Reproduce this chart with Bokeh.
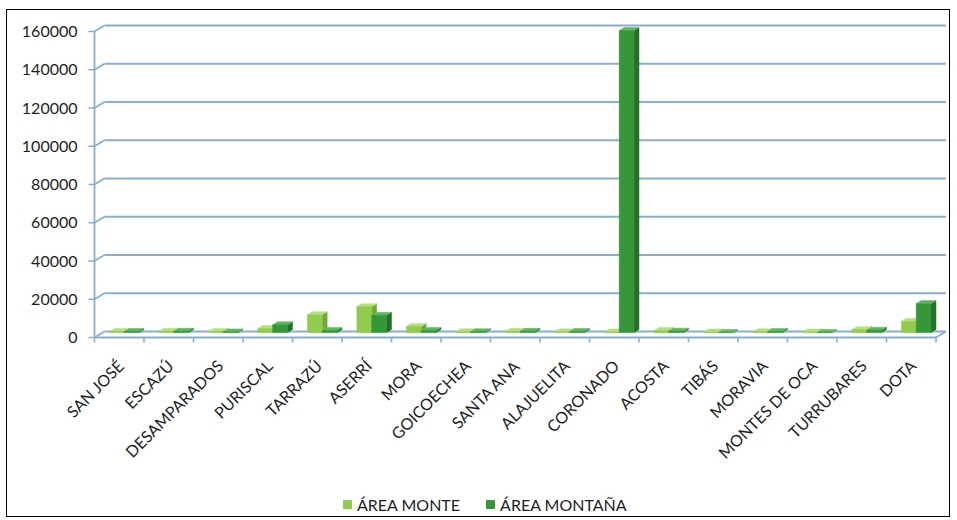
import numpy as np
from bokeh.plotting import figure
from bokeh.models import Legend, LegendItem, Range1d, ColumnDataSource
from bokeh.core.properties import value
from bokeh.embed import file_html
from bokeh.resources import INLINE

# ---------------- data ----------------
categories = ["SAN JOSÉ", "ESCAZÚ", "DESAMPARADOS", "PURISCAL", "TARRAZÚ", "ASERRÍ",
              "MORA", "GOICOECHEA", "SANTA ANA", "ALAJUELITA", "CORONADO", "ACOSTA",
              "TIBÁS", "MORAVIA", "MONTES DE OCA", "TURRUBARES", "DOTA"]
area_monte = [500, 600, 500, 2100, 9300, 13500, 3200, 400, 600, 400, 300, 1000,
              300, 400, 300, 1500, 5800]
area_montana = [500, 600, 300, 4100, 1000, 9000, 1000, 400, 600, 500, 157900, 700,
                0, 500, 0, 1200, 15100]
series_names = ["ÁREA MONTE", "ÁREA MONTAÑA"]
y_ticks = [0, 20000, 40000, 60000, 80000, 100000, 120000, 140000, 160000]
y_tick_labels = ["0", "20000", "40000", "60000", "80000", "100000", "120000",
                 "140000", "160000"]

# ---------------- style ----------------
FONT = "Lato"
GRID = "#88aed0"
TXT = "#1e1e1e"
BAR_W = 0.3
OFFS = [-0.05, 0.25]
PX = 160000 / 306.0         # data units per screen pixel (vertical)
UX = 1 / 49.5               # data units per screen pixel (horizontal)
DX, DY = 0.1, 3 * PX        # bar depth
WDX, WDY = 0.2, 6 * PX      # wall depth
BASE = 5 * PX               # bars stand a little behind the front floor edge
FRONT = ["#92cc4e", "#36963a"]
TOP = ["#b6e07c", "#5cb85c"]
SIDE = ["#6fa83a", "#257027"]

n = len(categories)
idx = np.arange(n)

# frame covers the whole figure; x=-0.5 sits at page x 95, y=0 at page y 338
p = figure(width=944, height=508,
           x_range=Range1d(-0.5 - 87 * UX, -0.5 + 857 * UX),
           y_range=Range1d(-181 * PX, 327 * PX), output_backend="svg",
           toolbar_location=None, x_axis_location=None, y_axis_location=None,
           min_border=0,
           styles={"border": "1px solid #000", "margin-left": "6px",
                   "margin-top": "9px"})
p.outline_line_color = None
p.grid.visible = False
p.background_fill_color = "white"

tick_arr = np.array(y_ticks, dtype=float)
nt = len(tick_arr)
# back-wall gridlines + left-wall connectors
p.segment(x0=[-0.5 + WDX] * nt, y0=tick_arr + WDY, x1=[16.7] * nt, y1=tick_arr + WDY,
          line_color=GRID, line_width=1.8)
p.segment(x0=[-0.5] * nt, y0=tick_arr, x1=[-0.5 + WDX] * nt, y1=tick_arr + WDY,
          line_color=GRID, line_width=1.8)
# vertical axis line + tick marks
p.segment(x0=[-0.5], y0=[0], x1=[-0.5], y1=[tick_arr.max()], line_color=GRID,
          line_width=1.8)
p.segment(x0=[-0.5] * nt, y0=tick_arr, x1=[-0.5 - 6 * UX] * nt, y1=tick_arr,
          line_color=GRID, line_width=1.6)
# floor front edge, right slant and category boundary ticks
bounds = np.arange(n + 1) - 0.5
p.segment(x0=[-0.5], y0=[0], x1=[16.5], y1=[0], line_color=GRID, line_width=1.8)
p.segment(x0=[16.5], y0=[0], x1=[16.7], y1=[WDY], line_color=GRID, line_width=1.8)
p.segment(x0=bounds, y0=[0] * len(bounds), x1=bounds, y1=[-5 * PX] * len(bounds),
          line_color=GRID, line_width=1.6)

for s, vals in enumerate([area_monte, area_montana]):
    v = np.array(vals, dtype=float) + BASE
    xc = idx + OFFS[s]
    x0 = xc - BAR_W / 2
    x1 = xc + BAR_W / 2
    p.patches(xs=[[a, a + DX, a + DX, a] for a in x1],
              ys=[[BASE, BASE + DY, t + DY, t] for t in v],
              fill_color=SIDE[s], line_color=SIDE[s], line_width=0.5)
    p.patches(xs=[[a, b, b + DX, a + DX] for a, b in zip(x0, x1)],
              ys=[[t, t, t + DY, t + DY] for t in v],
              fill_color=TOP[s], line_color=TOP[s], line_width=0.5)
    p.vbar(x=xc, top=v, bottom=BASE, width=BAR_W, fill_color=FRONT[s],
           line_color=FRONT[s], line_width=0.5)

# y tick labels
ysrc = ColumnDataSource(dict(x=[-0.5] * nt, y=y_ticks, text=y_tick_labels))
p.text(x="x", y="y", text="text", source=ysrc, text_align="right",
       text_baseline="middle", x_offset=-17, text_font=value(FONT),
       text_font_size=value("16px"), text_color=TXT)

# category labels (rotated)
lab_src = ColumnDataSource(dict(x=idx + 0.03, y=[0] * n, text=categories))
p.text(x="x", y="y", text="text", source=lab_src, angle=np.pi / 4,
       text_align="right", text_baseline="middle", x_offset=0, y_offset=25,
       text_font=value(FONT), text_font_size=value("16px"), text_color=TXT)

# legend with square swatches (renderers hold no visible points)
lg = [p.scatter(x=[np.nan], y=[np.nan], marker="square", size=9,
                fill_color=FRONT[s], line_color=FRONT[s]) for s in range(2)]
legend = Legend(items=[LegendItem(label=series_names[0], renderers=[lg[0]]),
                       LegendItem(label=series_names[1], renderers=[lg[1]])],
                orientation="horizontal", location=(330, 4),
                label_text_font=FONT, label_text_font_size="16px",
                label_text_color=TXT, glyph_width=20, glyph_height=20,
                border_line_color=None, background_fill_alpha=0,
                spacing=20, label_standoff=0, padding=0, margin=0)
p.add_layout(legend, "center")

open("out.html", "w").write(file_html(p, INLINE))
